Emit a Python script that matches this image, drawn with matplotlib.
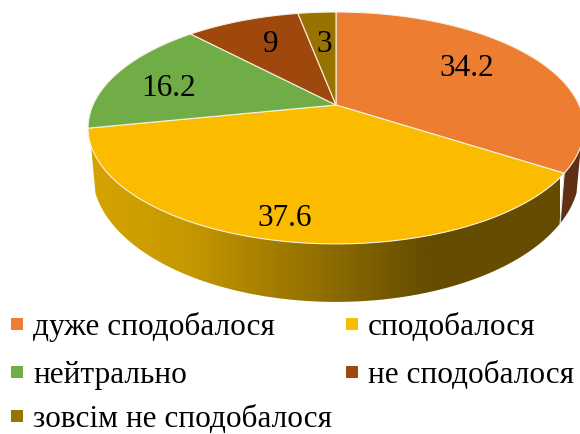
#3D style pie chart with legend underneath
import numpy as np
import matplotlib.pyplot as plt
from matplotlib.colors import LinearSegmentedColormap
from matplotlib.patches import Polygon

plt.rcParams['font.family'] = ['Liberation Serif', 'DejaVu Serif']

categories = ['дуже сподобалося', 'сподобалося', 'нейтрально', 'не сподобалося', 'зовсім не сподобалося']
values = [34.2, 37.6, 16.2, 9, 3]
value_labels = ['34.2', '37.6', '16.2', '9', '3']
colors = ['#ED7D31', '#FBBC00', '#70AD47', '#9E480E', '#997300']

#where the texts go, in pixels
label_x = [467, 285, 169, 271, 324]
label_y = [68, 218, 89, 45, 45]
legend_x = [17, 352, 17, 352, 17]
legend_y = [324, 324, 372, 372, 416]

#pie geometry in pixels, a circle seen in perspective
cx, cy = 336, 105
k, a, c = 243, 111.4, 0.198


def project(t, r=1.0):
    x = r * np.sin(t)
    y = r * np.cos(t)
    den = 1 + c * y
    return cx + k * x / den, cy - a * y / den


def drop(px, py):
    #same rim point on the bottom of the pie
    return cx + (px - cx) * 0.982, py + 58 - (244 - py) * 0.11


fig = plt.figure(figsize=(5.8, 4.34), dpi=100)
ax = fig.add_axes([0, 0, 1, 1])
ax.set_xlim(0, 580)
ax.set_ylim(434, 0)
ax.axis('off')

edges = np.radians(np.concatenate([[0], np.cumsum(values)]) * 3.6)
side_start, side_end = np.radians(110), np.radians(250)

#side of the yellow slice, gradient clipped to the shape
t = np.linspace(edges[1], side_end, 200)
px, py = project(t)
bx, by = drop(px, py)
side = Polygon(np.column_stack([np.r_[px, bx[::-1]], np.r_[py, by[::-1]]]), closed=True,
               facecolor='none', edgecolor='none')
ax.add_patch(side)
side_cmap = LinearSegmentedColormap.from_list('side', [
    (0.0, '#D6A300'), (0.2, '#C79900'), (0.5, '#8F6D00'), (0.72, '#654C00'), (1.0, '#654C00')])
img = ax.imshow(np.linspace(0, 1, 256).reshape(1, -1), cmap=side_cmap, aspect='auto',
                extent=[90, 560, 434, 0], zorder=1)
img.set_clip_path(side)
ax.set_xlim(0, 580)
ax.set_ylim(434, 0)

#side of the orange slice
t = np.linspace(side_start, edges[1], 40)
px, py = project(t)
bx, by = drop(px, py)
ax.fill(np.r_[px, bx[::-1]], np.r_[py, by[::-1]], color='#5F3014', lw=0, zorder=1)
sx, sy = project(edges[1])
bx0, by0 = drop(sx, sy)
ax.plot([sx, bx0], [sy, by0], color='#E8E2D0', lw=0.8, zorder=2)

#top of the pie
for i in range(len(values)):
    t = np.linspace(edges[i], edges[i + 1], 120)
    px, py = project(t)
    ax.fill(np.r_[cx, px], np.r_[cy, py], facecolor=colors[i], edgecolor='#F5F0E0', lw=0.8, zorder=3)

for i in range(len(values)):
    ax.text(label_x[i], label_y[i], value_labels[i], fontsize=22.5, ha='center', va='center',
            color='black', zorder=4)

#legend
ax.scatter(legend_x, legend_y, s=72, marker='s', c=colors, linewidths=0, zorder=4)
for i in range(len(categories)):
    ax.text(legend_x[i] + 16, legend_y[i], categories[i], fontsize=22.5, ha='left', va='center_baseline',
            color='black', zorder=4)

fig.savefig('out.png', dpi=100)
